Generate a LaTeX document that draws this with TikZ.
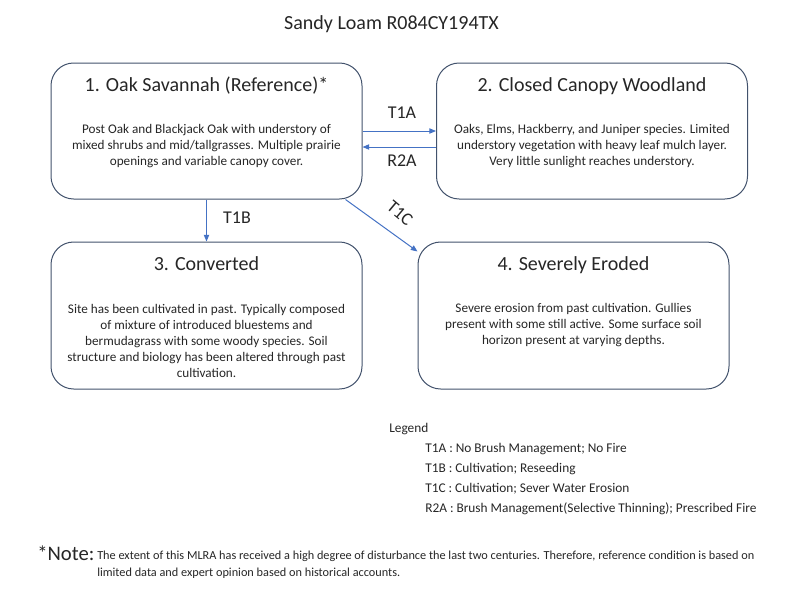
\documentclass[tikz,border=0pt]{standalone}
\usepackage{fontspec}
\setmainfont{Carlito}
\usetikzlibrary{arrows.meta}
\definecolor{boxline}{RGB}{66,82,108}
\definecolor{arrowblue}{RGB}{68,114,196}
\definecolor{txtgray}{RGB}{38,38,38}

\begin{document}
\begin{tikzpicture}[x=0.75pt,y=0.75pt,yscale=-1,xscale=1,
  statebox/.style={draw=boxline, line width=0.75pt, rounded corners=17pt, minimum width=233.25pt},
  boxtitle/.style={font=\fontsize{15}{18}\selectfont, text=txtgray, inner sep=0pt},
  boxbody/.style={font=\fontsize{9.9}{12}\selectfont, text=txtgray, align=center, inner sep=0pt},
  trans/.style={draw=arrowblue, line width=0.75pt, -{Triangle[length=5pt,width=4pt]}},
  translabel/.style={font=\fontsize{13.5}{16}\selectfont, text=txtgray, inner sep=0pt},
  legendtext/.style={font=\fontsize{10}{12}\selectfont, text=txtgray, anchor=west, inner sep=0pt}]
%set diagram size 800 x 600
\useasboundingbox (0,0) rectangle (800,600);

% Text Node
\node (title) [font=\fontsize{15}{18}\selectfont, text=txtgray, inner sep=0pt] at (391.5,24) {Sandy Loam R084CY194TX};

%Rounded Rect
\node (box1) [statebox, minimum height=102pt] at (206.5,131) {};
%Rounded Rect
\node (box2) [statebox, minimum height=102pt] at (592,131) {};
%Rounded Rect
\node (box3) [statebox, minimum height=110.25pt] at (206.5,315.5) {};
%Rounded Rect
\node (box4) [statebox, minimum height=110.25pt] at (573.5,315.5) {};

% Text Node
\node (t1) [boxtitle] at (206.5,86) {1. Oak Savannah (Reference)*};
\node (b1) [boxbody] at (206.5,146) {Post Oak and Blackjack Oak with understory of\\ mixed shrubs and mid/tallgrasses. Multiple prairie\\ openings and variable canopy cover.};
% Text Node
\node (t2) [boxtitle] at (592,86) {2. Closed Canopy Woodland};
\node (b2) [boxbody] at (592,146) {Oaks, Elms, Hackberry, and Juniper species. Limited\\ understory vegetation with heavy leaf mulch layer.\\ Very little sunlight reaches understory.};
% Text Node
\node (t3) [boxtitle] at (206.5,264) {3. Converted};
\node (b3) [boxbody] at (206.5,341) {Site has been cultivated in past. Typically composed\\ of mixture of introduced bluestems and\\ bermudagrass with some woody species. Soil\\ structure and biology has been altered through past\\ cultivation.};
% Text Node
\node (t4) [boxtitle] at (573.5,265) {4. Severely Eroded};
\node (b4) [boxbody] at (573.5,325) {Severe erosion from past cultivation. Gullies\\ present with some still active. Some surface soil\\ horizon present at varying depths.};

%Straight Lines (yscale=-1, so a positive yshift goes down)
\draw [trans] (box1.east) -- (box2.west);
\draw [trans] ([yshift=12pt]box2.west) -- ([yshift=12pt]box1.east);
\draw [trans] (box1.south) -- (box3.north);
\draw [trans] ([xshift=-12.75pt]box1.south east) -- ([yshift=7.5pt]box4.north west);

% Text Node
\node (l1) [translabel] at (402,113) {T1A};
\node (l2) [translabel] at (402,161) {R2A};
\node (l3) [translabel] at (237,218) {T1B};
\node (l4) [translabel, rotate=-40] at (400,213) {T1C};

% Legend
\node (leg) [legendtext] at (389,429) {Legend};
\node (lg1) [legendtext] at (425,449) {T1A : No Brush Management; No Fire};
\node (lg2) [legendtext] at (425,469) {T1B : Cultivation; Reseeding};
\node (lg3) [legendtext] at (425,489) {T1C : Cultivation; Sever Water Erosion};
\node (lg4) [legendtext] at (425,509) {R2A : Brush Management(Selective Thinning); Prescribed Fire};

% Note
\node (note) [font=\fontsize{15.5}{18}\selectfont, text=txtgray, anchor=west, inner sep=0pt] at (37,553) {*Note:};
\node (notetxt) [font=\fontsize{9.2}{12.75}\selectfont, text=txtgray, anchor=north west, align=left, inner sep=0pt] at (97,551) {The extent of this MLRA has received a high degree of disturbance the last two centuries. Therefore, reference condition is based on\\ limited data and expert opinion based on historical accounts.};

\end{tikzpicture}
\end{document}
